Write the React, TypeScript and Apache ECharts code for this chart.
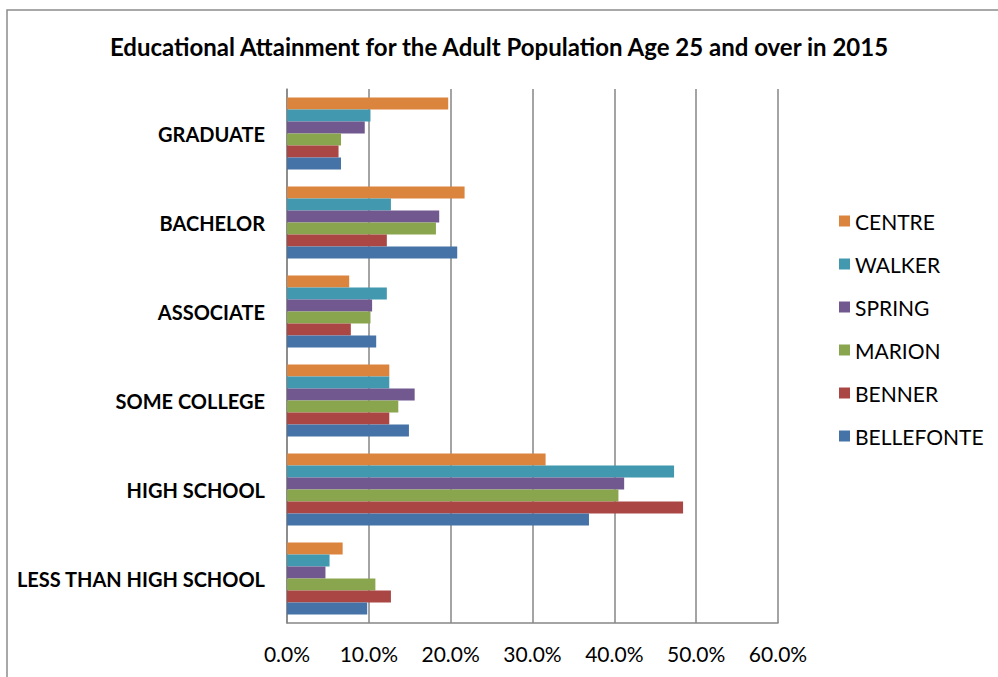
import React, { useEffect, useRef } from "react";
import * as echarts from "echarts";

const categories = ["LESS THAN HIGH SCHOOL", "HIGH SCHOOL", "SOME COLLEGE", "ASSOCIATE", "BACHELOR", "GRADUATE"];
const centre = [6.8, 31.6, 12.5, 7.6, 21.7, 19.7];
const walker = [5.2, 47.3, 12.5, 12.2, 12.7, 10.2];
const spring = [4.7, 41.2, 15.6, 10.4, 18.6, 9.5];
const marion = [10.8, 40.5, 13.6, 10.2, 18.2, 6.6];
const benner = [12.7, 48.4, 12.5, 7.8, 12.2, 6.3];
const bellefonte = [9.8, 36.9, 14.9, 10.9, 20.8, 6.6];
const seriesNames = ["CENTRE", "WALKER", "SPRING", "MARION", "BENNER", "BELLEFONTE"];
const seriesColors = ["#DB843D", "#4198AF", "#71588F", "#89A54E", "#AA4643", "#4572A7"];
const xTicks = [0, 10, 20, 30, 40, 50, 60];

const FONT = "Lato";

export default function App() {
  const ref = useRef<HTMLDivElement>(null);
  useEffect(() => {
    if (!ref.current) return;
    const chart = echarts.init(ref.current, null, { renderer: "svg" });
    const values = [centre, walker, spring, marion, benner, bellefonte];
    chart.setOption({
      animation: false,
      backgroundColor: "#ffffff",
      title: {
        text: "Educational Attainment for the Adult Population Age 25 and over in 2015",
        left: "center",
        top: 29,
        textStyle: { fontFamily: FONT, fontWeight: "bold", fontSize: 24, color: "#000" },
      },
      graphic: [
        {
          type: "rect",
          shape: { x: 7, y: 10, width: 1000, height: 700 },
          style: { fill: "none", stroke: "#8c8c8c", lineWidth: 1.5 },
          silent: true,
        },
      ],
      legend: {
        orient: "vertical",
        left: 834,
        top: 205,
        itemWidth: 11,
        itemHeight: 11,
        itemGap: 21,
        icon: "rect",
        data: seriesNames,
        textStyle: { fontFamily: FONT, fontSize: 21, color: "#000", lineHeight: 22 },
      },
      grid: { left: 287, right: 220, top: 89, bottom: 54, containLabel: false },
      xAxis: {
        type: "value",
        min: 0,
        max: 60,
        interval: 10,
        axisLine: { show: true, lineStyle: { color: "#868686", width: 1.5 } },
        axisTick: { show: false },
        splitLine: { show: true, lineStyle: { color: "#868686", width: 1.5 } },
        axisLabel: {
          formatter: (v: number) => (xTicks.includes(v) ? v.toFixed(1) + "%" : ""),
          fontFamily: FONT,
          fontSize: 21,
          color: "#000",
          margin: 20,
        },
      },
      yAxis: {
        type: "category",
        data: categories,
        axisLine: { show: true, lineStyle: { color: "#868686", width: 1.5 } },
        axisTick: { show: false },
        axisLabel: {
          fontFamily: FONT,
          fontWeight: "bold",
          fontSize: 20,
          color: "#000",
          margin: 22,
        },
      },
      series: seriesNames.map((name, i) => ({
        name,
        type: "bar",
        data: values[i],
        barGap: "0%",
        barCategoryGap: "19%",
        itemStyle: { color: seriesColors[i] },
      })),
    });
    return () => chart.dispose();
  }, []);
  return <div ref={ref} style={{ position: "fixed", left: 0, top: 0, width: 998, height: 677 }} />;
}
